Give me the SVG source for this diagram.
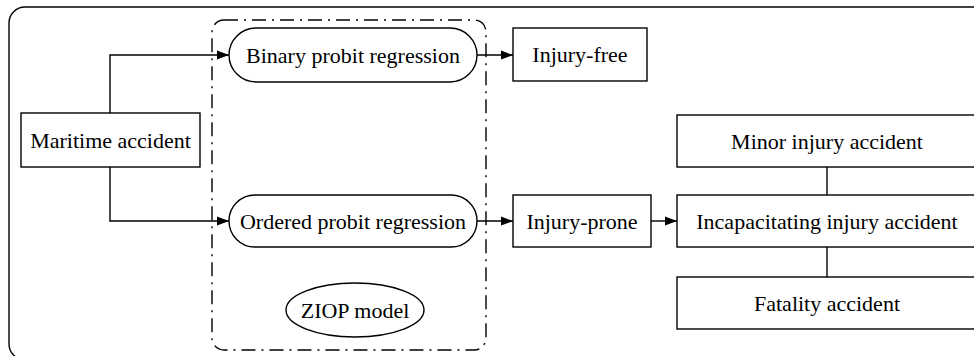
<svg xmlns="http://www.w3.org/2000/svg" width="974" height="356" viewBox="0 0 974 356">
<defs>
<marker id="arr" markerUnits="userSpaceOnUse" markerWidth="13" markerHeight="10" refX="12" refY="5" orient="auto">
<path d="M0,0.5 L12,5 L0,9.5 z" fill="#000"/>
</marker>
<style>
.box{fill:#fff;stroke:#000;stroke-width:1.4}
.lbl{font-family:"Liberation Serif","Times New Roman",serif;font-size:22px;fill:#000;text-anchor:middle}
.conn{fill:none;stroke:#000;stroke-width:1.4}
</style>
</defs>
<rect width="974" height="356" fill="#fff"/>
<rect id="frame" x="9" y="7" width="985" height="353" rx="16" fill="none" stroke="#000" stroke-width="1.4"/>
<rect id="ziop-group" x="212" y="20" width="274" height="330" rx="12" fill="none" stroke="#000" stroke-width="1.4" stroke-dasharray="14 6 2 6"/>
<g id="connectors">
<path class="conn" d="M110,113 V55 H229" marker-end="url(#arr)"/>
<path class="conn" d="M110,167 V221 H229" marker-end="url(#arr)"/>
<path class="conn" d="M477,55 H513" marker-end="url(#arr)"/>
<path class="conn" d="M477,221 H513" marker-end="url(#arr)"/>
<path class="conn" d="M651,221 H677" marker-end="url(#arr)"/>
<path class="conn" d="M827,167 V195"/>
<path class="conn" d="M827,247 V277"/>
</g>
<g id="maritime">
<rect class="box" x="21" y="113" width="179" height="54"/>
<text class="lbl" x="110.5" y="148">Maritime accident</text>
</g>
<g id="binary">
<rect class="box" x="229" y="28" width="248" height="54" rx="27"/>
<text class="lbl" x="353" y="62.5">Binary probit regression</text>
</g>
<g id="ordered">
<rect class="box" x="229" y="195" width="248" height="52" rx="26"/>
<text class="lbl" x="353" y="229">Ordered probit regression</text>
</g>
<g id="ziop">
<ellipse class="box" cx="355" cy="310" rx="69" ry="27"/>
<text class="lbl" x="355" y="317.5">ZIOP model</text>
</g>
<g id="injury-free">
<rect class="box" x="513" y="28" width="134" height="53"/>
<text class="lbl" x="580" y="62">Injury-free</text>
</g>
<g id="injury-prone">
<rect class="box" x="513" y="195" width="138" height="52"/>
<text class="lbl" x="582" y="229">Injury-prone</text>
</g>
<g id="minor">
<rect class="box" x="677" y="115" width="300" height="52"/>
<text class="lbl" x="827" y="148.5">Minor injury accident</text>
</g>
<g id="incapacitating">
<rect class="box" x="677" y="195" width="300" height="52"/>
<text class="lbl" x="827" y="229">Incapacitating injury accident</text>
</g>
<g id="fatality">
<rect class="box" x="677" y="277" width="300" height="52"/>
<text class="lbl" x="827" y="311">Fatality accident</text>
</g>
</svg>
